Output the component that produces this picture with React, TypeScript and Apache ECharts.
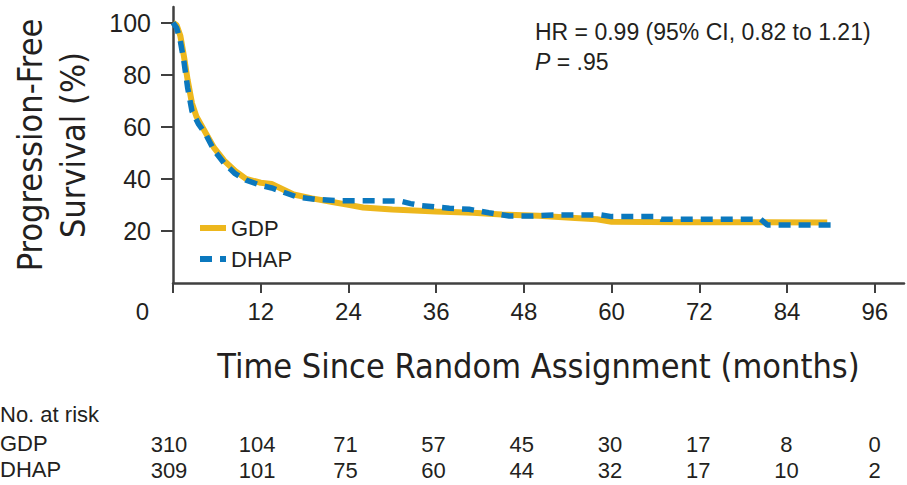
import React, { useEffect, useRef } from "react";
import * as echarts from "echarts";

const timeTicks = [0, 12, 24, 36, 48, 60, 72, 84, 96];
const survivalTicks = [20, 40, 60, 80, 100];
const gdpAtRisk = [310, 104, 71, 57, 45, 30, 17, 8, 0];
const dhapAtRisk = [309, 101, 75, 60, 44, 32, 17, 10, 2];

const gdpMonths = [0, 0.5, 1, 1.5, 2, 2.6, 3.2, 4.2, 5.6, 7, 8.5, 10, 12, 13.5, 15, 16.5, 19, 22, 24, 26, 30, 36, 41, 45, 50, 55, 58, 60, 70, 80, 89.5];
const gdpSurvival = [100, 99, 95, 87, 78, 69, 64, 59, 52, 47, 43, 40, 38.5, 38, 36, 34, 32.5, 31, 30, 29, 28.2, 27.5, 27, 26.3, 25.8, 25, 24.5, 23.5, 23.3, 23.3, 23.2];

const dhapMonths = [0, 0.5, 1, 1.5, 2, 2.6, 3.5, 4.5, 5.6, 7, 8.5, 10, 12, 13.5, 15, 17, 20, 23, 31, 32.5, 34, 37.8, 40.5, 43.2, 46, 49, 52, 58.6, 60, 66, 66.8, 80.4, 81.3, 90.7];
const dhapSurvival = [100, 98, 93, 85, 75, 66, 61, 57, 51, 46, 42, 39.5, 37.5, 36.5, 35, 33, 32, 31.6, 31.5, 30.5, 29.7, 28.7, 28.3, 27, 25.7, 25.7, 26.1, 26.1, 25.5, 25.5, 24.5, 24.5, 22.3, 22.3];

const TEXT = "#231f20";
const AXIS = "#404040";
const GOLD = "#EDB71D";
const BLUE = "#0B78BE";
const SANS = "'Liberation Sans', Arial, sans-serif";
const COND = "'DejaVu Sans Condensed', 'Liberation Sans Narrow', 'Liberation Sans', sans-serif";

export default function App() {
  const ref = useRef<HTMLDivElement>(null);
  useEffect(() => {
    if (!ref.current) return;
    const chart = echarts.init(ref.current, undefined, { renderer: "svg" });
    const pairs = (xs: number[], ys: number[]) => xs.map((x, i) => [x, ys[i]]);
    const riskAxis = (gridIndex: number, values: number[]) => ({
      type: "value",
      gridIndex,
      min: 0,
      max: 100,
      axisLine: { show: false },
      axisTick: { show: false },
      splitLine: { show: false },
      axisLabel: {
        customValues: timeTicks,
        margin: 3,
        fontSize: 22,
        fontFamily: SANS,
        color: TEXT,
        formatter: (v: number) => String(values[timeTicks.indexOf(v)] ?? ""),
      },
    });
    const hiddenY = (gridIndex: number) => ({
      type: "value",
      gridIndex,
      show: false,
      min: 0,
      max: 1,
    });
    chart.setOption({
      animation: false,
      backgroundColor: "#fff",
      grid: [
        { left: 169, top: 7, width: 735, height: 276 },
        { left: 169, top: 420, width: 735, height: 10 },
        { left: 169, top: 446, width: 735, height: 10 },
      ],
      xAxis: [
        {
          type: "value",
          gridIndex: 0,
          min: 0,
          max: 100,
          axisLine: { show: true, lineStyle: { color: AXIS, width: 2.5 } },
          axisTick: { show: true, customValues: timeTicks, length: 10, lineStyle: { color: AXIS, width: 2 } },
          splitLine: { show: false },
          axisLabel: {
            customValues: timeTicks,
            margin: 16,
            fontSize: 24,
            fontFamily: SANS,
            color: TEXT,
            formatter: (v: number) => (v === 0 ? "{z|0}" : String(v)),
            rich: { z: { padding: [0, 61, 0, 0], fontSize: 24, fontFamily: SANS, color: TEXT } },
          },
          name: "Time Since Random Assignment (months)",
          nameLocation: "middle",
          nameGap: 66,
          nameTextStyle: { fontSize: 34, fontFamily: COND, color: TEXT },
        },
        riskAxis(1, gdpAtRisk),
        riskAxis(2, dhapAtRisk),
      ],
      yAxis: [
        {
          type: "value",
          gridIndex: 0,
          min: 0,
          max: 106,
          axisLine: { show: true, lineStyle: { color: AXIS, width: 2.5 } },
          axisTick: { show: true, customValues: survivalTicks, length: 12, lineStyle: { color: AXIS, width: 2 } },
          splitLine: { show: false },
          axisLabel: {
            customValues: survivalTicks,
            margin: 22,
            fontSize: 25,
            fontFamily: SANS,
            color: TEXT,
          },
          name: "Progression-Free\nSurvival (%)",
          nameLocation: "middle",
          nameGap: 79,
          nameTextStyle: { fontSize: 34, lineHeight: 43, fontFamily: COND, color: TEXT },
        },
        hiddenY(1),
        hiddenY(2),
      ],
      legend: {
        data: ["GDP", "DHAP"],
        orient: "vertical",
        left: 192,
        top: 212,
        itemWidth: 26,
        itemHeight: 14,
        itemGap: 9,
        itemStyle: { opacity: 0, borderWidth: 0 },
        lineStyle: { width: 6 },
        textStyle: { fontSize: 22, lineHeight: 22, fontFamily: SANS, color: TEXT },
      },
      series: [
        {
          name: "GDP",
          type: "line",
          xAxisIndex: 0,
          yAxisIndex: 0,
          symbol: "none",
          data: pairs(gdpMonths, gdpSurvival),
          lineStyle: { color: GOLD, width: 6 },
          itemStyle: { color: GOLD },
          z: 2,
        },
        {
          name: "DHAP",
          type: "line",
          xAxisIndex: 0,
          yAxisIndex: 0,
          symbol: "none",
          data: pairs(dhapMonths, dhapSurvival),
          lineStyle: { color: BLUE, width: 5.5, type: [12, 8], cap: "butt" },
          itemStyle: { color: BLUE },
          z: 3,
        },
      ],
      graphic: [
        {
          type: "text",
          left: 535,
          top: 20,
          style: {
            text: "HR = 0.99 (95% CI, 0.82 to 1.21)",
            fontSize: 23,
            fontFamily: SANS,
            fill: TEXT,
          },
        },
        {
          type: "text",
          left: 535,
          top: 50,
          style: {
            text: "{i|P} = .95",
            fontSize: 23,
            fontFamily: SANS,
            fill: TEXT,
            rich: { i: { fontStyle: "italic", fontSize: 23, fontFamily: SANS, fill: TEXT } },
          },
        },
        {
          type: "text",
          left: 0,
          top: 403,
          style: { text: "No. at risk", fontSize: 22, fontFamily: SANS, fill: TEXT },
        },
        {
          type: "text",
          left: 0,
          top: 432,
          style: { text: "GDP", fontSize: 22, fontFamily: SANS, fill: TEXT },
        },
        {
          type: "text",
          left: 0,
          top: 458,
          style: { text: "DHAP", fontSize: 22, fontFamily: SANS, fill: TEXT },
        },
      ],
    });
    return () => chart.dispose();
  }, []);
  return (
    <div
      ref={ref}
      style={{ position: "fixed", left: 0, top: 0, width: 907, height: 485, background: "#fff" }}
    />
  );
}
